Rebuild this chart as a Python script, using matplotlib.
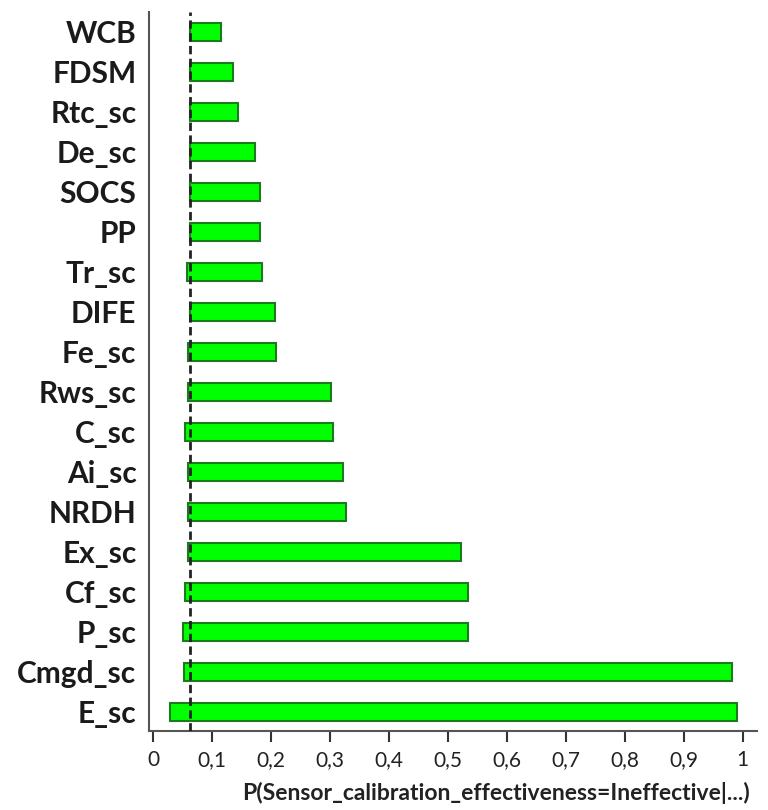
import matplotlib
matplotlib.use("Agg")
import matplotlib.pyplot as plt
import numpy as np

# variables, listed top to bottom as in the chart
labels = ["WCB", "FDSM", "Rtc_sc", "De_sc", "SOCS", "PP", "Tr_sc", "DIFE", "Fe_sc",
          "Rws_sc", "C_sc", "Ai_sc", "NRDH", "Ex_sc", "Cf_sc", "P_sc", "Cmgd_sc", "E_sc"]
low = [0.063, 0.063, 0.063, 0.063, 0.063, 0.063, 0.058, 0.063, 0.059,
       0.059, 0.054, 0.059, 0.059, 0.059, 0.054, 0.051, 0.053, 0.028]
high = [0.115, 0.136, 0.144, 0.173, 0.181, 0.181, 0.185, 0.206, 0.209,
        0.302, 0.305, 0.323, 0.328, 0.522, 0.534, 0.534, 0.982, 0.990]
baseline = 0.063
xticks = [0, 0.1, 0.2, 0.3, 0.4, 0.5, 0.6, 0.7, 0.8, 0.9, 1]
xticklabels = ["0", "0,1", "0,2", "0,3", "0,4", "0,5", "0,6", "0,7", "0,8", "0,9", "1"]

plt.rcParams["font.family"] = ["Lato", "DejaVu Sans"]

fig = plt.figure(figsize=(7.68, 8.10), dpi=100)
ax = fig.add_axes([0.194, 0.0975, 0.792, 0.888])

n = len(labels)
ys = np.arange(n)[::-1]
widths = np.array(high) - np.array(low)
ax.barh(ys, widths, left=low, height=0.45, color="#00ff00",
        edgecolor="#1f7a1f", linewidth=1.5)
ax.axvline(baseline, color="#222222", linestyle=(0, (3, 1.6)), linewidth=2, zorder=3)

ax.set_xlim(-0.007, 1.025)
ax.set_ylim(-0.48, n - 0.5)
ax.set_yticks(ys)
ax.set_yticklabels(labels, fontsize=21.5, fontweight="bold", color="#1a1a1a")
ax.set_xticks(xticks)
ax.set_xticklabels(xticklabels, fontsize=15, color="#222222")
ax.tick_params(axis="y", length=0, pad=9)
ax.tick_params(axis="x", length=8, width=1.5, color="#333333", pad=6)

for s in ["top", "right"]:
    ax.spines[s].set_visible(False)
for s in ["left", "bottom"]:
    ax.spines[s].set_color("#555555")
    ax.spines[s].set_linewidth(1.5)

fig.text(0.977, 0.012, "P(Sensor_calibration_effectiveness=Ineffective|...)",
         ha="right", va="baseline", fontsize=16.5, fontweight="bold", color="#222222")

fig.savefig("out.png", dpi=100)
